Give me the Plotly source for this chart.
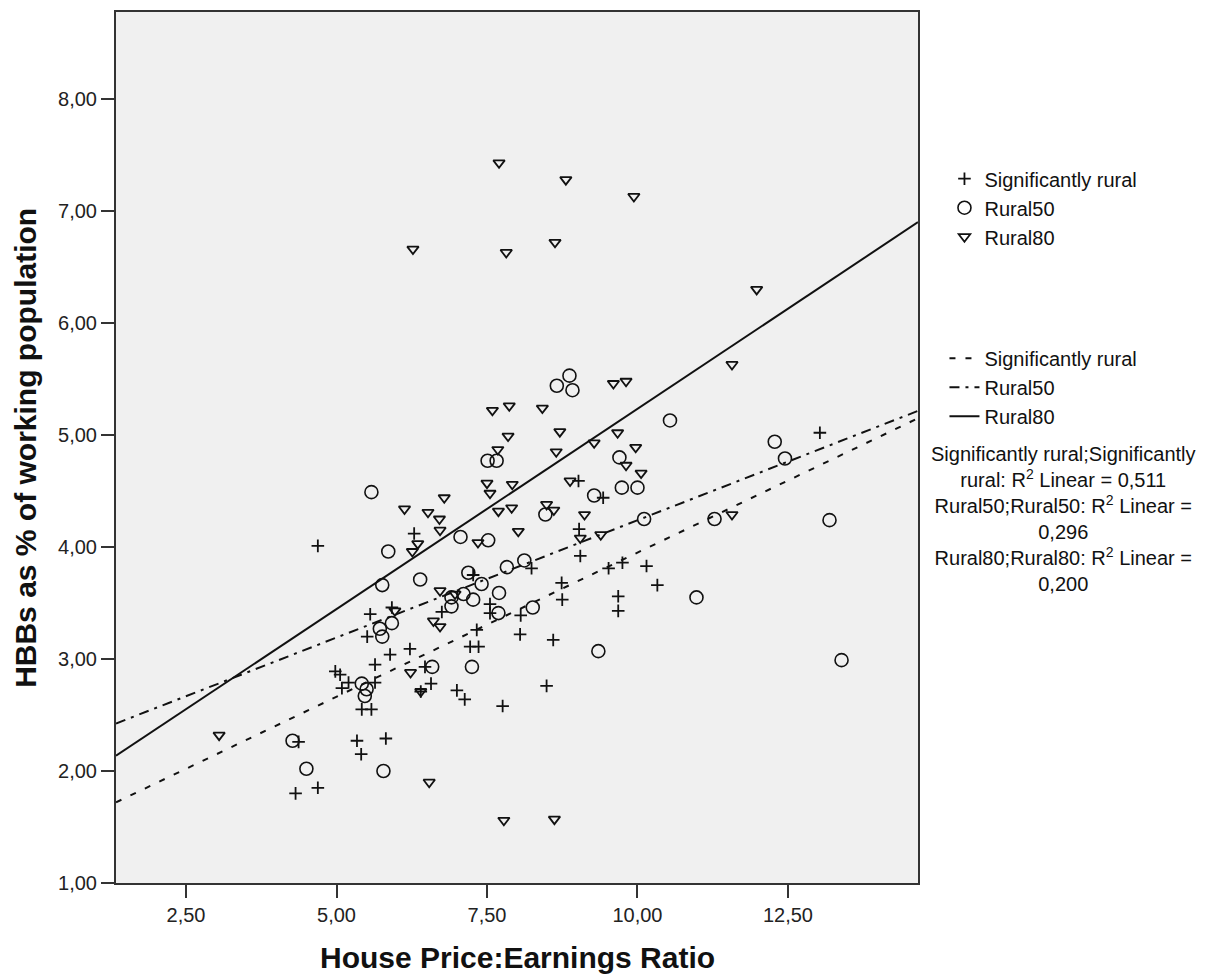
import plotly.graph_objects as go

# --- observations (x = house price:earnings ratio, y = HBBs as % of working population)
sig_rural_x = [4.69, 9.02, 9.43, 6.29, 9.03, 9.05, 8.24, 7.27, 7.55, 7.55, 8.06, 8.74, 8.75,
               9.52, 9.75, 10.15, 10.33, 9.68, 9.68, 7.33, 7.22, 7.36, 8.05, 8.60, 8.49, 7.76,
               13.03, 5.56, 5.92, 5.51, 6.75, 5.89, 6.22, 5.64, 6.47, 6.57, 6.40, 7.00, 7.13,
               4.98, 5.06, 5.20, 5.09, 5.64, 5.42, 5.58, 4.37, 5.34, 5.82, 5.41, 4.32, 4.69]
sig_rural_y = [4.01, 4.59, 4.44, 4.12, 4.16, 3.92, 3.81, 3.75, 3.49, 3.41, 3.39, 3.68, 3.53,
               3.81, 3.86, 3.83, 3.66, 3.56, 3.43, 3.26, 3.11, 3.11, 3.22, 3.17, 2.76, 2.58,
               5.02, 3.40, 3.46, 3.20, 3.42, 3.04, 3.09, 2.95, 2.93, 2.78, 2.71, 2.72, 2.64,
               2.89, 2.86, 2.79, 2.74, 2.79, 2.55, 2.55, 2.26, 2.27, 2.29, 2.15, 1.80, 1.85]

rural50_x = [8.87, 8.66, 8.92, 10.54, 7.51, 7.66, 9.70, 12.28, 12.45, 5.58, 9.28, 9.74, 10.00,
             8.47, 10.11, 11.28, 13.19, 7.06, 7.52, 5.86, 8.12, 7.83, 7.19, 6.39, 5.76, 7.41,
             7.70, 6.91, 7.11, 7.27, 6.91, 7.69, 8.26, 10.98, 5.92, 5.72, 5.76, 9.35, 13.39,
             7.25, 6.59, 5.42, 5.50, 5.47, 4.27, 4.50, 5.78]
rural50_y = [5.53, 5.44, 5.40, 5.13, 4.77, 4.77, 4.80, 4.94, 4.79, 4.49, 4.46, 4.53, 4.53,
             4.29, 4.25, 4.25, 4.24, 4.09, 4.06, 3.96, 3.88, 3.82, 3.77, 3.71, 3.66, 3.67,
             3.59, 3.55, 3.58, 3.53, 3.47, 3.41, 3.46, 3.55, 3.32, 3.27, 3.20, 3.07, 2.99,
             2.93, 2.93, 2.78, 2.73, 2.67, 2.27, 2.02, 2.00]

rural80_x = [7.70, 6.27, 7.82, 8.81, 9.94, 8.63, 11.98, 9.60, 9.81, 7.59, 7.87, 8.42, 7.85,
             8.71, 7.68, 8.65, 9.67, 9.28, 9.97, 9.81, 10.06, 7.50, 7.92, 7.55, 8.88, 6.79,
             6.13, 6.52, 6.71, 6.72, 7.69, 7.91, 8.49, 8.61, 9.12, 8.02, 9.05, 9.39, 6.35,
             6.26, 7.35, 6.72, 11.57, 11.57, 6.97, 5.97, 6.61, 6.72, 6.23, 6.40, 3.05, 6.54,
             7.78, 8.62]
rural80_y = [7.43, 6.66, 6.63, 7.28, 7.13, 6.72, 6.30, 5.46, 5.48, 5.22, 5.26, 5.24, 4.99,
             5.03, 4.87, 4.85, 5.02, 4.93, 4.89, 4.73, 4.66, 4.57, 4.56, 4.48, 4.59, 4.44,
             4.34, 4.31, 4.25, 4.15, 4.32, 4.35, 4.38, 4.33, 4.29, 4.14, 4.08, 4.11, 4.03,
             3.96, 4.04, 3.61, 5.63, 4.29, 3.58, 3.43, 3.34, 3.29, 2.88, 2.71, 2.32, 1.90,
             1.56, 1.57]

# --- linear fits per group: y = intercept + slope * x
group_names = ["Significantly rural", "Rural50", "Rural80"]
fit_intercepts = [1.376, 2.144, 1.658]
fit_slopes = [0.2574, 0.2095, 0.3576]
r2_values = ["0,511", "0,296", "0,200"]

# --- axes
x_range = [1.337, 14.66]
y_range = [1.0, 8.777]
x_tickvals = [2.5, 5.0, 7.5, 10.0, 12.5]
x_ticktext = ["2,50", "5,00", "7,50", "10,00", "12,50"]
y_tickvals = [1, 2, 3, 4, 5, 6, 7, 8]
y_ticktext = ["1,00", "2,00", "3,00", "4,00", "5,00", "6,00", "7,00", "8,00"]

INK = "#111111"
FONT = "Arial, Liberation Sans, sans-serif"

fig = go.Figure()

marker_styles = [
    dict(symbol="cross-thin-open", size=9, color=INK, line=dict(color=INK, width=1.8)),
    dict(symbol="circle-open", size=13, color=INK, line=dict(color=INK, width=1.6)),
    dict(symbol="triangle-down-open", size=10, color=INK, line=dict(color=INK, width=1.8)),
]
series = [(sig_rural_x, sig_rural_y), (rural50_x, rural50_y), (rural80_x, rural80_y)]

for name, (xs, ys), mk in zip(group_names, series, marker_styles):
    fig.add_trace(go.Scatter(
        x=xs, y=ys, mode="markers", name=name, marker=mk,
        legend="legend", showlegend=True,
    ))

line_dashes = ["6px,10px", "10px,6px,3px,6px", "solid"]
for name, a, b, dash in zip(group_names, fit_intercepts, fit_slopes, line_dashes):
    xs = [x_range[0], x_range[1]]
    ys = [a + b * v for v in xs]
    fig.add_trace(go.Scatter(
        x=xs, y=ys, mode="lines", name=name,
        line=dict(color=INK, width=2, dash=dash),
        legend="legend2", showlegend=True,
    ))

r2_text = (f"Significantly rural;Significantly<br>rural: R<sup>2</sup> Linear = {r2_values[0]}"
           f"<br>Rural50;Rural50: R<sup>2</sup> Linear =<br>{r2_values[1]}"
           f"<br>Rural80;Rural80: R<sup>2</sup> Linear =<br>{r2_values[2]}")

axis_common = dict(
    showgrid=False, zeroline=False, showline=True, linecolor="#333333", linewidth=2,
    mirror=True, ticks="outside", ticklen=13, tickwidth=2, tickcolor="#333333",
    tickfont=dict(family=FONT, size=20, color="#222222"),
)

fig.update_layout(
    width=1218, height=978,
    margin=dict(l=116, r=300, t=10, b=95),
    paper_bgcolor="white",
    plot_bgcolor="#F0F0F0",
    font=dict(family=FONT, color=INK),
    xaxis=dict(range=x_range, tickvals=x_tickvals, ticktext=x_ticktext, **axis_common),
    yaxis=dict(range=y_range, tickvals=y_tickvals, ticktext=y_ticktext, **axis_common),
    legend=dict(x=1.033, y=0.831, xanchor="left", yanchor="top",
                font=dict(family=FONT, size=20, color=INK), bgcolor="rgba(0,0,0,0)",
                tracegroupgap=0, itemwidth=30),
    legend2=dict(x=1.033, y=0.625, xanchor="left", yanchor="top",
                 font=dict(family=FONT, size=20, color=INK), bgcolor="rgba(0,0,0,0)",
                 tracegroupgap=0, itemwidth=30),
    annotations=[
        dict(text="<b>House Price:Earnings Ratio</b>", xref="paper", yref="paper",
             x=0.5, y=-0.086, xanchor="center", yanchor="middle", showarrow=False,
             font=dict(family=FONT, size=30, color=INK)),
        dict(text="<b>HBBs as % of working population</b>", xref="paper", yref="paper",
             x=-0.113, y=0.5, xanchor="center", yanchor="middle", showarrow=False,
             textangle=-90, font=dict(family=FONT, size=30, color=INK)),
        dict(text=r2_text, xref="paper", yref="paper", x=1.181, y=0.508,
             xanchor="center", yanchor="top", align="center", showarrow=False,
             font=dict(family=FONT, size=20, color=INK)),
    ],
)

fig.write_html("out.html")
